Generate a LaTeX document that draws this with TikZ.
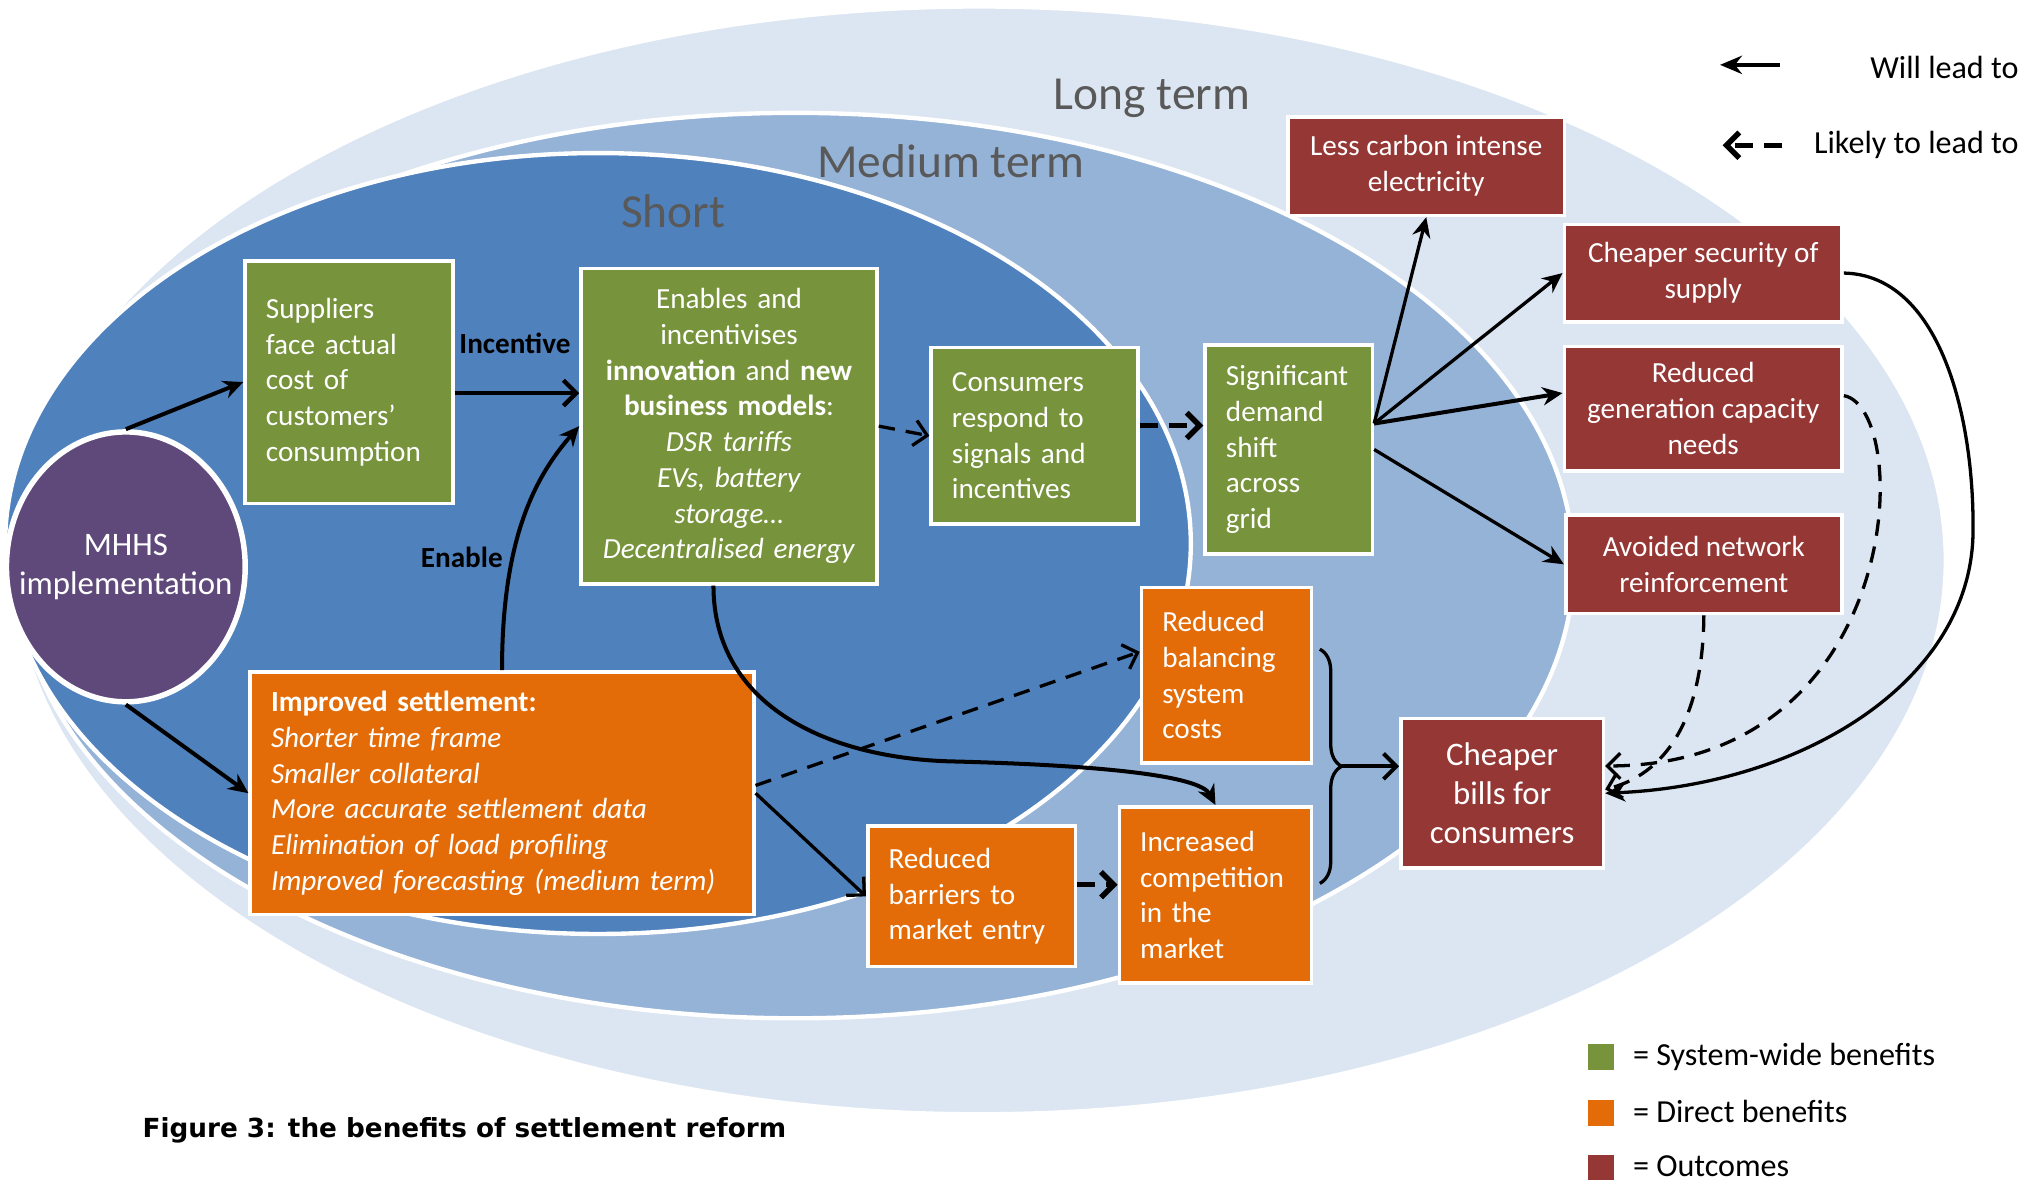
\documentclass[tikz,border=0pt]{standalone}
\usepackage{fontspec}
\setmainfont{Carlito}
\newfontfamily\capfont{DejaVu Sans}
\usetikzlibrary{arrows.meta,positioning,calc,decorations.pathreplacing,shapes.geometric}
\definecolor{longterm}{HTML}{DCE6F2}
\definecolor{medterm}{HTML}{95B3D7}
\definecolor{shortterm}{HTML}{4F81BD}
\definecolor{sysgreen}{HTML}{77933C}
\definecolor{dirorange}{HTML}{E36C09}
\definecolor{outred}{HTML}{953735}
\definecolor{mhhspurple}{HTML}{5F497A}
\definecolor{termgray}{HTML}{595959}
\newcommand{\boxfont}{\fontsize{8}{9.8}\selectfont}
\newcommand{\bigboxfont}{\fontsize{9}{10.6}\selectfont}
\newcommand{\keyfont}{\fontsize{8.8}{10.5}\selectfont}

\begin{document}
\begin{tikzpicture}[x=0.0125cm, y=-0.0125cm,
  box/.style={draw=white, line width=1pt, text=white, font=\boxfont, inner xsep=0.2cm, inner ysep=0pt, align=left},
  sysbox/.style={box, fill=sysgreen},
  dirbox/.style={box, fill=dirorange},
  outbox/.style={box, fill=outred, align=center},
  term/.style={text=termgray, font=\fontsize{13}{15}\selectfont},
  arrowlbl/.style={font=\boxfont\bfseries},
  keylbl/.style={font=\keyfont},
  lead/.style={line width=0.9pt, -{Stealth[length=5.5pt,width=5pt]}},
  leadopen/.style={line width=0.9pt, -{Straight Barb[length=3.5pt,width=7pt]}},
  likely/.style={line width=0.9pt, dash pattern=on 4.5pt off 3pt, -{Straight Barb[length=3.5pt,width=7pt]}},
  likelybold/.style={likely, line width=1.5pt, dash pattern=on 5pt off 3pt},
  zone/.style={draw=white, line width=1.2pt}]
\fill[white] (0,0) rectangle (1568,910);
\useasboundingbox (0,0) rectangle (1568,910);

% time horizons
\filldraw[zone, fill=longterm] (755,432) ellipse (745 and 427);
\filldraw[zone, fill=medterm] (613,436) ellipse (600 and 349);
\filldraw[zone, fill=shortterm] (461,419) ellipse (457 and 301);
\node[term] (longlbl) at (888,76) {Long term};
\node[term] (medlbl) at (733,124) {Medium term};
\node[term] (shortlbl) at (519,163) {Short};

% boxes
\node[ellipse, draw=white, line width=1.5pt, fill=mhhspurple, minimum width=2.3cm, minimum height=2.6cm, inner sep=0pt] (mhhs) at (97,437) {};
\node[text=white, align=center, font=\bigboxfont] (mhhstxt) at (mhhs) {MHHS\\implementation};
\node[sysbox, text width=1.6cm, minimum height=2.3375cm] (sup) at (269,294.5) {Suppliers\\face actual\\cost of\\customers’\\consumption};
\node[sysbox, align=center, text width=2.45cm, minimum height=3.0375cm] (enab) at (562,328.5) {Enables and\\incentivises\\\textbf{innovation} and \textbf{new}\\\textbf{business models}:\\\textit{DSR tariffs}\\\textit{EVs, battery}\\\textit{storage…}\\\textit{Decentralised energy}};
\node[sysbox, text width=1.59cm, minimum height=1.7cm] (cons) at (797.5,336) {Consumers\\respond to\\signals and\\incentives};
\node[sysbox, text width=1.21cm, minimum height=2.0125cm] (sig) at (993.5,346.5) {Significant\\demand\\shift\\across\\grid};
\node[outbox, minimum width=2.6625cm, minimum height=0.95cm] (carb) at (1099.5,128) {Less carbon intense\\electricity};
\node[outbox, minimum width=2.675cm, minimum height=0.9375cm] (secu) at (1313,210.5) {Cheaper security of\\supply};
\node[outbox, minimum width=2.675cm, minimum height=1.2cm] (gen) at (1313,315) {Reduced\\generation capacity\\needs};
\node[outbox, minimum width=2.6625cm, minimum height=0.95cm] (netw) at (1313.5,435) {Avoided network\\reinforcement};
\node[dirbox, text width=1.2375cm, minimum height=1.6875cm] (bal) at (945.5,520.5) {Reduced\\balancing\\system\\costs};
\node[dirbox, text width=4.45cm, minimum height=2.3375cm] (sett) at (387,611.5) {\textbf{Improved settlement:}\\\textit{Shorter time frame}\\\textit{Smaller collateral}\\\textit{More accurate settlement data}\\\textit{Elimination of load profiling}\\\textit{Improved forecasting (medium term)}};
\node[dirbox, text width=1.6cm, minimum height=1.35cm] (barr) at (749,691) {Reduced\\barriers to\\market entry};
\node[dirbox, text width=1.45cm, minimum height=1.7cm] (comp) at (937,690) {Increased\\competition\\in the\\market};
\node[outbox, font=\bigboxfont, minimum width=1.95cm, minimum height=1.4375cm] (bills) at (1158,611.5) {Cheaper\\bills for\\consumers};

% links
\draw[lead, line width=1.1pt] (mhhs.north) -- (sup.west);
\draw[lead, line width=1.1pt] (mhhs.south) -- (sett.west);
\coordinate (incstart) at ($(sup.east)+(0,8.5)$);
\draw[leadopen, line width=1.2pt] (incstart) -- (incstart -| enab.west);
\node[arrowlbl] (inclbl) at (397,265) {Incentive};
\draw[lead, line width=1.1pt] (sett.north) .. controls +(0,-100) and +(-35,40) .. (enab.west);
\node[arrowlbl] (enablbl) at (356,430) {Enable};
\draw[likely] (enab.east) -- (cons.west);
\coordinate (csstart) at ($(cons.east)+(0,-8)$);
\draw[likelybold] (csstart) -- (csstart -| sig.west);
\coordinate (fan) at ($(sig.east)+(0,-20)$);
\draw[lead] (fan) -- (carb.south);
\draw[lead] (fan) -- (secu.west);
\draw[lead, line width=1.1pt] (fan) -- ($(gen.west)+(0,-12)$);
\draw[lead] (sig.east) -- (netw.west);
\draw[lead, line width=1.1pt] ($(enab.south)+(-12,0)$) .. controls (550,545) and (640,585) .. (735,587) .. controls (850,590) and (925,598) .. (comp.north);
\draw[likely] ($(sett.east)+(0,-6)$) -- ($(bal.west)+(0,-18)$);
\draw[leadopen] (sett.east) -- (barr.west);
\coordinate (bcstart) at ($(barr.east)+(0,-9)$);
\draw[likelybold] (bcstart) -- (bcstart -| comp.west);
\coordinate (bracetop) at ($(bal.east)+(5,-20)$);
\coordinate (bracebot) at ($(comp.east)+(5,-9)$);
\draw[line width=0.9pt, decorate, decoration={brace, amplitude=6pt}] (bracetop) -- (bracebot);
\coordinate (bracetip) at ($($(bracetop)!0.5!(bracebot)$)+(17,0)$);
\draw[leadopen, line width=1.1pt] (bracetip) -- (bracetip -| bills.west);
\draw[lead] (secu.east) .. controls (1495,212) and (1522,320) .. (1521,410) .. controls (1520,525) and (1390,605) .. (bills.east);
\draw[likely] ($(gen.east)+(0,-10)$) .. controls (1475,315) and (1470,590) .. ($(bills.east)+(0,-21)$);
\draw[likely] (netw.south) .. controls (1313,545) and (1290,595) .. ($(bills.east)+(0,-3)$);

% key
\coordinate (willA) at (1372,50);
\coordinate (willB) at (1326,50);
\draw[line width=1.2pt, -{Stealth[length=6pt,width=5pt]}] (willA) -- (willB);
\node[keylbl, anchor=east] (willtxt) at (1566,52) {Will lead to};
\coordinate (likA) at (1374,112);
\coordinate (likB) at (1328,112);
\draw[likelybold] (likA) -- (likB);
\node[keylbl, anchor=east] (liktxt) at (1566,112) {Likely to lead to};
\fill[sysgreen] (1224,805) rectangle (1244,825);
\fill[dirorange] (1224,848) rectangle (1244,868);
\fill[outred] (1224,890) rectangle (1244,910);
\node[keylbl, anchor=west] (systxt) at (1249,815) {= System-wide benefits};
\node[keylbl, anchor=west] (dirtxt) at (1249,857) {= Direct benefits};
\node[keylbl, anchor=west] (outtxt) at (1249,899) {= Outcomes};
\node[anchor=west, font={\capfont\bfseries\fontsize{7.2}{8.6}\selectfont}] (caption) at (100,871) {Figure 3: the benefits of settlement reform};
\end{tikzpicture}
\end{document}
